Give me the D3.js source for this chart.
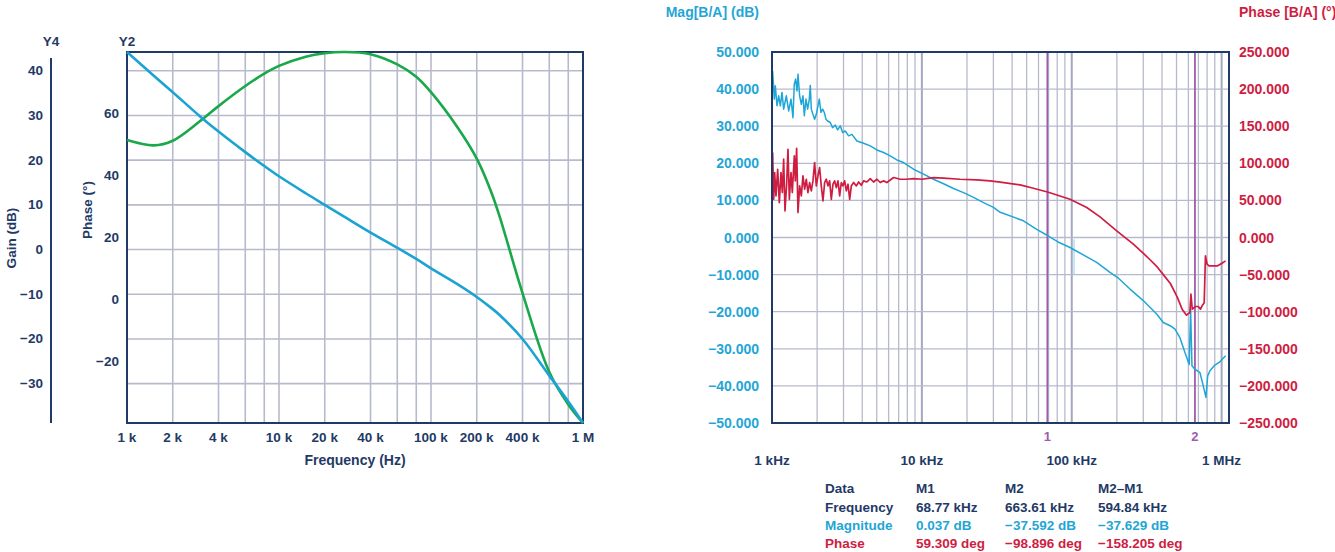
<!DOCTYPE html>
<html>
<head>
<meta charset="utf-8">
<script src="https://cdn.jsdelivr.net/npm/d3@7"></script>
<style>
  html, body { margin: 0; padding: 0; background: #fff; }
  svg text { font-family: "Liberation Sans", Arial, Helvetica, sans-serif; font-weight: bold; }
</style>
</head>
<body>
<div id="plot"></div>
<script>
// ---------- left chart data (simulated loop gain / phase) ----------
var leftFreq  = [1000, 1500, 2000, 3000, 4000, 6000, 8000, 10000, 15000, 20000, 27000, 40000, 60000, 80000, 100000, 150000, 200000, 250000, 284000, 400000, 600000, 800000, 1000000];
var leftGain  = [44.2, 38.9, 35.2, 29.9, 26.4, 21.8, 18.7, 16.4, 12.6, 10.0, 7.3, 3.8, 0.4, -2.1, -4.2, -7.8, -10.6, -13.1, -14.7, -20.0, -28.2, -34.0, -38.8];
var leftPhase = [51.5, 49.8, 51.3, 57.5, 62.5, 69.0, 73.0, 75.5, 78.5, 79.6, 80.0, 79.3, 76.0, 72.0, 67.0, 55.5, 45.5, 34.5, 26.5, 2.0, -23.5, -34.0, -40.0];
var leftFreqTicks = [1e3, 2e3, 4e3, 1e4, 2e4, 4e4, 1e5, 2e5, 4e5, 1e6];
var leftFreqLabels = ["1 k", "2 k", "4 k", "10 k", "20 k", "40 k", "100 k", "200 k", "400 k", "1 M"];
var leftGridFreq = [1e3, 2e3, 4e3, 6e3, 8e3, 1e4, 2e4, 4e4, 6e4, 8e4, 1e5, 2e5, 4e5, 6e5, 8e5, 1e6];
var gainTicks = [40, 30, 20, 10, 0, -10, -20, -30];
var phaseTicks = [60, 40, 20, 0, -20];

// ---------- right chart data (measured Bode plot) ----------
var magFreq = [1010, 1036, 1052, 1080, 1108, 1137, 1166, 1196, 1246, 1292, 1339, 1380, 1408, 1438, 1468, 1491, 1529, 1569, 1609, 1643,
  1685, 1729, 1774, 1801, 1829, 1876, 1925, 1975, 2026, 2068, 2122, 2177, 2234, 2291, 2351, 2448, 2538, 2644, 2741, 2855,
  2959, 3083, 3245, 3415, 3687, 4084, 4524, 5012, 5552, 6150, 6813, 7547, 8799, 10260, 11960, 13950, 16260, 18960, 22100, 25770,
  30050, 33300, 47590, 58400, 69800, 81000, 97400, 146700, 180000, 202500, 244700, 300000, 368500, 408000, 464000, 488500, 527000, 569000, 608000, 621000,
  634000, 663600, 716600, 754000, 786000, 807000, 835600, 902000, 974000, 1063000];
var magVal = [44.9, 37.3, 40.9, 35.5, 38.2, 35.5, 39.1, 34.6, 38.2, 34.1, 37.3, 32.3, 41.3, 42.7, 39.5, 44.0, 38.2, 35.9, 38.2, 32.8,
  37.3, 34.6, 37.3, 41.0, 34.6, 33.2, 31.9, 33.2, 35.5, 37.3, 33.7, 34.6, 33.7, 31.9, 31.4, 31.0, 29.6, 30.3, 29.0, 30.1,
  28.3, 28.7, 27.4, 27.8, 26.0, 25.4, 24.7, 23.6, 22.9, 22.0, 20.9, 20.2, 18.4, 17.1, 15.7, 14.5, 13.2, 12.1, 10.8, 9.4,
  8.1, 6.8, 4.5, 2.2, 0.4, -1.2, -2.7, -6.7, -9.4, -10.8, -13.9, -17.0, -20.6, -22.9, -24.0, -24.7, -27.0, -31.0, -34.2, -19.3,
  -34.6, -35.5, -36.4, -40.0, -43.1, -37.3, -35.9, -34.4, -33.5, -31.9];

var phaseFreq = [1010, 1026, 1042, 1063, 1091, 1119, 1148, 1172, 1196, 1221, 1252, 1278, 1305, 1339, 1366, 1409, 1431, 1460, 1491, 1529,
  1569, 1609, 1651, 1694, 1737, 1782, 1829, 1876, 1925, 1975, 2026, 2078, 2132, 2188, 2245, 2303, 2363, 2424, 2487, 2552,
  2618, 2686, 2756, 2828, 2901, 2977, 3054, 3133, 3215, 3298, 3384, 3507, 3655, 3786, 3942, 4084, 4297, 4524, 4761, 5012,
  5275, 5552, 5844, 6474, 7172, 7943, 8799, 10000, 11960, 13950, 17960, 23230, 28500, 33300, 45200, 55500, 69800, 97400, 125900, 154400,
  199500, 257600, 303000, 333000, 373000, 408000, 455000, 505000, 545000, 583000, 614000, 624000, 637000, 669000, 698000, 723000, 741000, 765000, 780000, 800000,
  824000, 940000, 1000000, 1063000];
var phaseVal = [114.5, 51.5, 87.5, 56.1, 92.0, 47.0, 87.5, 60.6, 105.5, 35.9, 71.8, 118.9, 51.5, 87.5, 60.6, 110.0, 76.3, 120.3, 33.6, 69.6,
  56.1, 83.1, 65.1, 78.5, 60.6, 74.1, 62.8, 76.3, 101.0, 69.6, 83.1, 94.3, 69.6, 49.4, 74.1, 78.5, 69.6, 76.3, 51.5, 71.8,
  76.3, 67.3, 76.3, 56.1, 74.1, 69.6, 76.3, 62.8, 71.8, 51.5, 69.6, 74.1, 69.6, 74.8, 70.4, 76.3, 74.8, 79.4, 74.8, 78.5,
  74.1, 76.3, 74.1, 80.8, 78.5, 78.5, 79.4, 78.5, 80.8, 79.9, 78.5, 77.6, 76.3, 74.6, 70.9, 66.4, 61.0, 51.6, 40.4, 27.8,
  9.0, -9.0, -22.0, -30.0, -40.0, -50.0, -62.0, -80.0, -96.6, -104.7, -101.1, -76.4, -96.6, -93.0, -93.0, -96.6, -92.0, -88.0, -24.8, -36.0,
  -38.2, -38.2, -35.0, -31.5];

var magTicks = [50, 40, 30, 20, 10, 0, -10, -20, -30, -40, -50];
var phaseRightTicks = [250, 200, 150, 100, 50, 0, -50, -100, -150, -200, -250];
var rightFreqTicks = [1e3, 1e4, 1e5, 1e6];
var rightFreqLabels = ["1 kHz", "10 kHz", "100 kHz", "1 MHz"];
var markerFreq = [68770, 663610];
var markerNames = ["1", "2"];
var glitchFreq = [103600, 103600];
var glitchMag = [-0.5, -9.9];

// marker readout table
var tableHead = ["Data", "M1", "M2", "M2\u2013M1"];
var tableFreq = ["Frequency", "68.77 kHz", "663.61 kHz", "594.84 kHz"];
var tableMag = ["Magnitude", "0.037 dB", "\u221237.592 dB", "\u221237.629 dB"];
var tablePhase = ["Phase", "59.309 deg", "\u221298.896 deg", "\u2212158.205 deg"];

// colours
var navy = "#1f3a66", grid = "#b7bacd", cyan = "#1fa6d6", red = "#cf1d42", green = "#19a84a", purple = "#9d5cab";

var svg = d3.select("#plot")
  .append("svg")
    .attr("width", 1335)
    .attr("height", 552);

// ================= LEFT CHART =================
var L = {left: 127, right: 583, top: 52, bottom: 423};

var lx = d3.scaleLog().domain([1e3, 1e6]).range([L.left, L.right]);
var lGain = d3.scaleLinear().domain([-38.8, 44.2]).range([L.bottom, L.top]);
var lPhase = d3.scaleLinear().domain([-40, 80]).range([L.bottom, L.top]);

var lg = svg.append("g");

// grid
lg.selectAll(".vgrid").data(leftGridFreq).enter().append("line")
  .attr("x1", function(d) { return lx(d); }).attr("x2", function(d) { return lx(d); })
  .attr("y1", L.top).attr("y2", L.bottom)
  .attr("stroke", grid).attr("stroke-width", 1.6);
lg.selectAll(".hgrid").data(gainTicks).enter().append("line")
  .attr("x1", L.left).attr("x2", L.right)
  .attr("y1", function(d) { return lGain(d); }).attr("y2", function(d) { return lGain(d); })
  .attr("stroke", grid).attr("stroke-width", 1.6);

// frame
lg.append("rect")
  .attr("x", L.left).attr("y", L.top)
  .attr("width", L.right - L.left).attr("height", L.bottom - L.top)
  .attr("fill", "none").attr("stroke", navy).attr("stroke-width", 2);

// curves
var lineGain = d3.line()
  .x(function(d, i) { return lx(leftFreq[i]); })
  .y(function(d) { return lGain(d); })
  .curve(d3.curveCatmullRom.alpha(0.5));
var linePhase = d3.line()
  .x(function(d, i) { return lx(leftFreq[i]); })
  .y(function(d) { return lPhase(d); })
  .curve(d3.curveCatmullRom.alpha(0.5));

lg.append("path").datum(leftPhase)
  .attr("d", linePhase).attr("fill", "none").attr("stroke", green).attr("stroke-width", 2.6);
lg.append("path").datum(leftGain)
  .attr("d", lineGain).attr("fill", "none").attr("stroke", "#1ba3d3").attr("stroke-width", 2.6);

// x tick labels
lg.selectAll(".xl").data(leftFreqTicks).enter().append("text")
  .attr("x", function(d) { return lx(d); })
  .attr("y", 442)
  .attr("text-anchor", "middle")
  .attr("font-size", 13.5).attr("fill", navy)
  .text(function(d, i) { return leftFreqLabels[i]; });

lg.append("text")
  .attr("x", 355).attr("y", 465)
  .attr("text-anchor", "middle").attr("font-size", 14).attr("fill", navy)
  .text("Frequency (Hz)");

// gain axis (Y4), detached on the far left
var gainAxisX = 51;
lg.append("line")
  .attr("x1", gainAxisX).attr("x2", gainAxisX)
  .attr("y1", L.top + 6).attr("y2", L.bottom)
  .attr("stroke", navy).attr("stroke-width", 2);
lg.selectAll(".gl").data(gainTicks).enter().append("text")
  .attr("x", 43)
  .attr("y", function(d) { return lGain(d) + 4.5; })
  .attr("text-anchor", "end")
  .attr("font-size", 13.5).attr("fill", navy)
  .text(function(d) { return d < 0 ? "\u2212" + Math.abs(d) : d; });
lg.append("text")
  .attr("x", gainAxisX).attr("y", 46)
  .attr("text-anchor", "middle").attr("font-size", 13.5).attr("fill", navy)
  .text("Y4");
lg.append("text")
  .attr("transform", "translate(16,238) rotate(-90)")
  .attr("text-anchor", "middle").attr("font-size", 13.5).attr("fill", navy)
  .text("Gain (dB)");

// phase axis (Y2)
lg.selectAll(".pl").data(phaseTicks).enter().append("text")
  .attr("x", 119)
  .attr("y", function(d) { return lPhase(d) + 4.5; })
  .attr("text-anchor", "end")
  .attr("font-size", 13.5).attr("fill", navy)
  .text(function(d) { return d < 0 ? "\u2212" + Math.abs(d) : d; });
lg.append("text")
  .attr("x", L.left).attr("y", 46)
  .attr("text-anchor", "middle").attr("font-size", 13.5).attr("fill", navy)
  .text("Y2");
lg.append("text")
  .attr("transform", "translate(92,210) rotate(-90)")
  .attr("text-anchor", "middle").attr("font-size", 13.5).attr("fill", navy)
  .text("Phase (\u00b0)");

// ================= RIGHT CHART =================
var R = {left: 772, right: 1229, top: 52, bottom: 423};

var rx = d3.scaleLog().domain([1e3, 1.12e6]).range([R.left, R.right]);
var rMag = d3.scaleLinear().domain([-50, 50]).range([R.bottom, R.top]);
var rPhase = d3.scaleLinear().domain([-250, 250]).range([R.bottom, R.top]);

var rg = svg.append("g");

// log grid 1..9 per decade
var rGridFreq = [];
[1e3, 1e4, 1e5].forEach(function(dec) {
  for (var k = 1; k <= 9; k++) rGridFreq.push(dec * k);
});
rGridFreq.push(1e6);

rg.selectAll(".vgrid").data(rGridFreq).enter().append("line")
  .attr("x1", function(d) { return rx(d); }).attr("x2", function(d) { return rx(d); })
  .attr("y1", R.top).attr("y2", R.bottom)
  .attr("stroke", function(d) { return rightFreqTicks.indexOf(d) >= 0 ? "#a3a7bf" : grid; })
  .attr("stroke-width", function(d) { return rightFreqTicks.indexOf(d) >= 0 ? 2 : 1.3; });
rg.selectAll(".hgrid").data(magTicks).enter().append("line")
  .attr("x1", R.left).attr("x2", R.right)
  .attr("y1", function(d) { return rMag(d); }).attr("y2", function(d) { return rMag(d); })
  .attr("stroke", grid).attr("stroke-width", 1.3);

// marker cursors
rg.selectAll(".marker").data(markerFreq).enter().append("line")
  .attr("x1", function(d) { return rx(d); }).attr("x2", function(d) { return rx(d); })
  .attr("y1", R.top).attr("y2", R.bottom)
  .attr("stroke", purple).attr("stroke-width", 1.8);
rg.selectAll(".markerlab").data(markerFreq).enter().append("text")
  .attr("x", function(d) { return rx(d); })
  .attr("y", 441)
  .attr("text-anchor", "middle").attr("font-size", 13).attr("font-weight", "normal").attr("fill", purple)
  .text(function(d, i) { return markerNames[i]; });

// curves
var lineMag = d3.line()
  .x(function(d, i) { return rx(magFreq[i]); })
  .y(function(d) { return rMag(d); });
var linePh = d3.line()
  .x(function(d, i) { return rx(phaseFreq[i]); })
  .y(function(d) { return rPhase(d); });

rg.append("path").datum(glitchMag)
  .attr("d", d3.line().x(function(d, i) { return rx(glitchFreq[i]); }).y(function(d) { return rMag(d); }))
  .attr("stroke", "#8dd3ef").attr("stroke-width", 1).attr("fill", "none");
rg.append("path").datum(magVal)
  .attr("d", lineMag).attr("fill", "none").attr("stroke", cyan).attr("stroke-width", 1.5)
  .attr("stroke-linejoin", "round");
rg.append("path").datum(phaseVal)
  .attr("d", linePh).attr("fill", "none").attr("stroke", red).attr("stroke-width", 1.7)
  .attr("stroke-linejoin", "round");

// frame
rg.append("rect")
  .attr("x", R.left).attr("y", R.top)
  .attr("width", R.right - R.left).attr("height", R.bottom - R.top)
  .attr("fill", "none").attr("stroke", navy).attr("stroke-width", 2);

// y labels
rg.selectAll(".ml").data(magTicks).enter().append("text")
  .attr("x", 759)
  .attr("y", function(d) { return rMag(d) + 5; })
  .attr("text-anchor", "end").attr("font-size", 14).attr("fill", cyan)
  .text(function(d) { return (d < 0 ? "\u2212" : "") + d3.format(".3f")(Math.abs(d)); });
rg.selectAll(".prl").data(phaseRightTicks).enter().append("text")
  .attr("x", 1239)
  .attr("y", function(d) { return rPhase(d) + 5; })
  .attr("text-anchor", "start").attr("font-size", 14).attr("fill", red)
  .text(function(d) { return (d < 0 ? "\u2212" : "") + d3.format(".3f")(Math.abs(d)); });

rg.append("text")
  .attr("x", 759).attr("y", 17)
  .attr("text-anchor", "end").attr("font-size", 14).attr("fill", cyan)
  .text("Mag[B/A] (dB)");
rg.append("text")
  .attr("x", 1239).attr("y", 17)
  .attr("text-anchor", "start").attr("font-size", 14).attr("fill", red)
  .text("Phase [B/A] (\u00b0)");

// x labels
rg.selectAll(".xl").data(rightFreqTicks).enter().append("text")
  .attr("x", function(d) { return rx(d); })
  .attr("y", 465)
  .attr("text-anchor", "middle").attr("font-size", 13.5).attr("fill", navy)
  .text(function(d, i) { return rightFreqLabels[i]; });

// marker readout table
var colX = [825, 916, 1005, 1098];
var rows = [
  {cells: tableHead, color: navy, y: 493},
  {cells: tableFreq, color: navy, y: 512},
  {cells: tableMag, color: cyan, y: 530},
  {cells: tablePhase, color: red, y: 548}
];
rows.forEach(function(r) {
  rg.selectAll(null).data(r.cells).enter().append("text")
    .attr("x", function(d, i) { return colX[i]; })
    .attr("y", r.y)
    .attr("font-size", 13.5).attr("fill", r.color)
    .text(function(d) { return d; });
});
</script>
</body>
</html>
